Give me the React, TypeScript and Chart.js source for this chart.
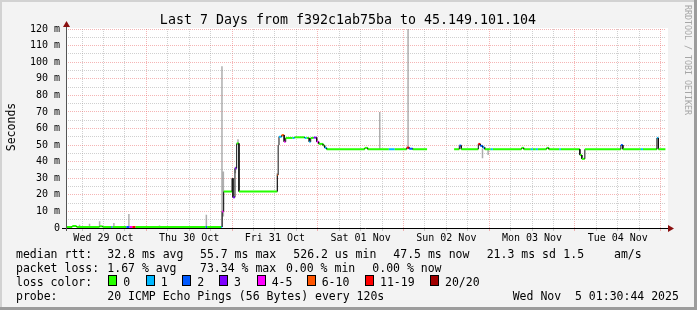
import React, { useEffect, useRef } from 'react';
import { Chart, registerables } from 'chart.js';

Chart.register(...registerables);

// ---------------- data ----------------
const TITLE = 'Last 7 Days from f392c1ab75ba to 45.149.101.104';
const Y_TITLE = 'Seconds';
const WATERMARK = 'RRDTOOL / TOBI OETIKER';

// x values are hours since Wed 29 Oct 00:00
const START_H = 1.512; // Wed 29 Oct 01:30:44
const END_H = 169.512; // Wed 05 Nov 01:30:44
const DAY_LABELS = ['Wed 29 Oct', 'Thu 30 Oct', 'Fri 31 Oct', 'Sat 01 Nov', 'Sun 02 Nov', 'Mon 03 Nov', 'Tue 04 Nov'];
const Y_MIN = 0;
const Y_MAX = 120;
const Y_STEP = 5;

const LOSS_COLORS = ['#26ff00', '#00b8ff', '#0059ff', '#7e00ff', '#ff00ff', '#ff5500', '#ff0000', '#a10000'];
const LOSS_LABELS = ['0', '1', '2', '3', '4-5', '6-10', '11-19', '20/20'];

// median rtt (ms) as steps: start hour, value, loss bucket
const medianHours = [
  1.51, 3.27, 4.47, 10.92, 11.76, 14.2, 14.56, 18.4, 19.32, 20.08, 21.0, 40.6, 41.03, 44.96,
  45.24, 45.66, 48.0, 48.26, 48.82, 49.3, 49.94, 60.7, 60.92, 61.15, 61.9, 62.6, 63.03, 64.99,
  65.55, 68.35, 68.9, 69.61, 70.03, 70.87, 71.71, 72.27, 73.53, 73.95, 74.51, 85.16, 86.0, 91.9,
  93.56, 96.92, 97.62, 98.61, 102.61, 110.18, 111.64, 112.19, 116.96, 117.52, 118.22, 118.78,
  120.46, 121.02, 129.06, 129.7, 131.67, 132.23, 133.07, 133.63, 136.07, 136.71, 139.65, 140.07,
  145.39, 145.95, 146.79, 156.88, 157.44, 162.48, 163.05, 166.97, 167.38,
];
const medianValues: (number | null)[] = [
  0.6, 1.2, 0.6, 1.0, 0.6, 0.6, 0.6, 0.6, 0.6, 0.6, 0.6, 0.6, 0.6, 0.6,
  10, 22, 30, 18.5, 36, 51, 22, 32, 50, 55, 56, 52, 54.3, 54.3,
  54.7, 54.3, 54.3, 52, 54.3, 54.5, 52, 50.7, 49.7, 48.3, 47.5, 48.3, 47.5, 47.5,
  47.5, 48.5, 47.8, 47.5, null, 47.5, 49.7, 47.5, 50.7, 49.5, 48.5, 47.5,
  47.5, 47.5, 48.3, 47.5, 47.5, 47.5, 47.5, 47.5, 48.3, 47.5, 47.5, 47.5,
  44, 41.7, 47.5, 50, 47.5, 47.5, 47.5, 54.3, 47.5,
];
const medianLoss = [
  0, 0, 0, 0, 0, 2, 0, 2, 4, 6, 0, 2, 0, 1,
  4, 0, 7, 3, 3, 0, 0, 5, 6, 1, 5, 4, 0, 1,
  0, 1, 0, 1, 0, 3, 4, 0, 0, 1, 0, 0, 0, 1,
  0, 6, 2, 0, 0, 0, 2, 0, 6, 2, 1, 0,
  1, 0, 0, 0, 1, 0, 1, 0, 0, 0, 1, 0,
  0, 0, 0, 2, 0, 1, 0, 1, 0,
];
const MEDIAN_END_H = 169.35;

// smoke (spread of the 20 pings): hour, low, high
const smokeHours = [5.31, 8.1, 10.92, 14.92, 19.12, 27.7, 40.81, 45.18, 45.57, 48.94, 49.67, 60.65, 89.36, 97.29, 118.13, 119.7];
const smokeLow = [0.6, 0.6, 0.6, 0.6, 0.6, 0.6, 0.6, 0.6, 7, 33, 50, 22, 47.5, 47.5, 42, 44];
const smokeHigh = [2, 2.5, 4, 3, 8.5, 1.5, 8, 97.5, 34, 37, 53.5, 33, 70, 122, 48, 48];

// legend text
const LEGEND_RTT = ['median rtt:', '32.8 ms avg', '55.7 ms max', '526.2 us min', '47.5 ms now', '21.3 ms sd', '1.5', 'am/s'];
const LEGEND_LOSS = ['packet loss:', '1.67 % avg', '73.34 % max', '0.00 % min', '0.00 % now'];
const LEGEND_COLOR_TITLE = 'loss color:';
const LEGEND_PROBE = ['probe:', '20 ICMP Echo Pings (56 Bytes) every 120s', 'Wed Nov  5 01:30:44 2025'];

// ---------------- layout / style ----------------
const W = 697;
const H = 310;
const MONO = '"DejaVu Sans Mono", monospace';
const BG = '#f3f3f3';
const MAJOR = 'rgba(232, 90, 90, 0.45)';
const MINOR = 'rgba(150, 150, 150, 0.45)';

function buildMedian() {
  const pts: { x: number; y: number | null }[] = [];
  const seg: (string | null)[] = [];
  for (let i = 0; i < medianHours.length; i++) {
    const t0 = medianHours[i];
    const t1 = i + 1 < medianHours.length ? medianHours[i + 1] : MEDIAN_END_H;
    const v = medianValues[i];
    if (v === null) {
      pts.push({ x: t0, y: null });
      seg.push(null);
      continue;
    }
    pts.push({ x: t0, y: v });
    seg.push(LOSS_COLORS[medianLoss[i]]);
    pts.push({ x: t1, y: v });
    seg.push('v');
  }
  return { pts, seg };
}

function buildSmoke() {
  const pts: { x: number; y: number | null }[] = [];
  for (let i = 0; i < smokeHours.length; i++) {
    pts.push({ x: smokeHours[i], y: smokeLow[i] });
    pts.push({ x: smokeHours[i], y: smokeHigh[i] });
    pts.push({ x: smokeHours[i], y: null });
  }
  return pts;
}

const decorPlugin = {
  id: 'rrdDecor',
  beforeDraw(chart: any) {
    const { ctx, chartArea: a } = chart;
    ctx.save();
    ctx.fillStyle = BG;
    ctx.fillRect(0, 0, W, H);
    // frame
    ctx.fillStyle = '#d2d2d2';
    ctx.fillRect(0, 0, W, 2);
    ctx.fillRect(0, 0, 2, H);
    ctx.fillStyle = '#9c9c9c';
    ctx.fillRect(0, H - 3, W, 3);
    ctx.fillRect(W - 3, 0, 3, H);
    // canvas
    ctx.fillStyle = '#ffffff';
    ctx.fillRect(a.left, a.top - 1, a.right - a.left + 2, a.bottom - a.top + 1);
    ctx.restore();
  },
  afterDatasetsDraw(chart: any) {
    const { ctx, chartArea: a } = chart;
    ctx.save();
    // axes
    ctx.lineWidth = 1;
    ctx.strokeStyle = '#000';
    ctx.beginPath();
    ctx.moveTo(a.left - 4, a.bottom + 0.5);
    ctx.lineTo(a.right + 3, a.bottom + 0.5);
    ctx.stroke();
    ctx.strokeStyle = '#555';
    ctx.beginPath();
    ctx.moveTo(a.left + 0.5, a.bottom + 3);
    ctx.lineTo(a.left + 0.5, a.top - 3);
    ctx.stroke();
    ctx.fillStyle = '#8a1010';
    ctx.beginPath();
    ctx.moveTo(a.right + 2, a.bottom - 3);
    ctx.lineTo(a.right + 8, a.bottom + 0.5);
    ctx.lineTo(a.right + 2, a.bottom + 4);
    ctx.closePath();
    ctx.fill();
    ctx.beginPath();
    ctx.moveTo(a.left - 3, a.top - 2);
    ctx.lineTo(a.left + 0.5, a.top - 8);
    ctx.lineTo(a.left + 4, a.top - 2);
    ctx.closePath();
    ctx.fill();

    // title
    ctx.fillStyle = '#000';
    ctx.font = `13.3px ${MONO}`;
    ctx.textAlign = 'center';
    ctx.textBaseline = 'alphabetic';
    ctx.fillText(TITLE, 348, 24);

    // y title
    ctx.save();
    ctx.translate(15, 127);
    ctx.rotate(-Math.PI / 2);
    ctx.font = `11.5px ${MONO}`;
    ctx.textAlign = 'center';
    ctx.fillText(Y_TITLE, 0, 0);
    ctx.restore();

    // watermark
    ctx.save();
    ctx.translate(685, 5);
    ctx.rotate(Math.PI / 2);
    ctx.font = `8.3px ${MONO}`;
    ctx.fillStyle = '#a6a6a6';
    ctx.textAlign = 'left';
    ctx.fillText(WATERMARK, 0, 0);
    ctx.restore();

    // legend
    ctx.font = `11.5px ${MONO}`;
    ctx.textAlign = 'left';
    ctx.fillStyle = '#000';
    const rttX = [16, 107.3, 200, 293.3, 393.3, 486.7, 563.3, 614];
    LEGEND_RTT.forEach((t, i) => ctx.fillText(t, rttX[i], 258));
    const lossX = [16, 107.3, 200, 286, 372.3];
    LEGEND_LOSS.forEach((t, i) => ctx.fillText(t, lossX[i], 272));
    ctx.fillText(LEGEND_COLOR_TITLE, 16, 285.7);
    const boxX = [108.3, 145.7, 182.3, 219, 256.7, 306.7, 365, 430];
    LOSS_COLORS.forEach((c, i) => {
      const bx = Math.round(boxX[i]);
      ctx.fillStyle = c;
      ctx.fillRect(bx, 275, 9, 11);
      ctx.strokeStyle = '#000';
      ctx.lineWidth = 1;
      ctx.strokeRect(bx + 0.5, 275.5, 8, 10);
      ctx.fillStyle = '#000';
      ctx.fillText(LOSS_LABELS[i], boxX[i] + 15, 285.7);
    });
    const probeX = [16, 107.3, 512.7];
    LEGEND_PROBE.forEach((t, i) => ctx.fillText(t, probeX[i], 299.5));
    ctx.restore();
  },
};

function makeXTicks() {
  const t: { value: number }[] = [];
  for (let h = Math.ceil(START_H / 6) * 6; h <= END_H; h += 6) t.push({ value: h });
  return t;
}

export default function App() {
  const ref = useRef<HTMLCanvasElement | null>(null);
  useEffect(() => {
    document.body.style.margin = '0';
    if (!ref.current) return;
    const med = buildMedian();
    const chart = new Chart(ref.current, {
      type: 'line',
      data: {
        datasets: [
          {
            label: 'median',
            data: med.pts as any,
            order: 0,
            borderColor: LOSS_COLORS[0],
            borderWidth: 2,
            pointRadius: 0,
            pointHoverRadius: 0,
            spanGaps: false,
            tension: 0,
            segment: {
              borderColor: (c: any) => {
                const s = med.seg[c.p0DataIndex];
                return s === 'v' ? '#111' : s || 'rgba(0,0,0,0)';
              },
              borderWidth: (c: any) => (med.seg[c.p0DataIndex] === 'v' ? 1 : 2),
            },
          } as any,
          {
            label: 'smoke',
            data: buildSmoke() as any,
            order: 1,
            borderColor: 'rgba(140,140,140,0.7)',
            borderWidth: 1.5,
            pointRadius: 0,
            pointHoverRadius: 0,
            spanGaps: false,
          } as any,
        ],
      },
      options: {
        animation: false,
        responsive: false,
        devicePixelRatio: 1,
        events: [],
        layout: { padding: { top: 29, right: 31, left: 0, bottom: 0 } },
        plugins: { legend: { display: false }, tooltip: { enabled: false }, title: { display: false } },
        scales: {
          x: {
            type: 'linear',
            min: START_H,
            max: END_H,
            afterFit: (s: any) => {
              s.height = 82;
            },
            afterBuildTicks: (s: any) => {
              s.ticks = makeXTicks();
            },
            grid: {
              color: (c: any) => (c.tick && c.tick.value % 24 === 0 ? MAJOR : MINOR),
              tickColor: (c: any) => (c.tick && c.tick.value % 24 === 0 ? MAJOR : MINOR),
              tickLength: 3,
              lineWidth: 1,
            },
            border: { display: false, dash: [1, 1] },
            ticks: {
              autoSkip: false,
              maxRotation: 0,
              padding: 1,
              color: '#000',
              font: { family: MONO, size: 10 },
              callback: (v: any) => {
                const n = Number(v);
                return n % 24 === 12 ? DAY_LABELS[(n - 12) / 24] || '' : '';
              },
            },
          },
          y: {
            type: 'linear',
            min: Y_MIN,
            max: Y_MAX,
            afterFit: (s: any) => {
              s.width = 66;
            },
            grid: {
              color: (c: any) => (c.tick && c.tick.value % 10 === 0 ? MAJOR : MINOR),
              drawTicks: false,
              lineWidth: 1,
            },
            border: { display: false, dash: [1, 1] },
            ticks: {
              stepSize: Y_STEP,
              autoSkip: false,
              padding: 6,
              color: '#000',
              font: { family: MONO, size: 10 },
              callback: (v: any) => {
                const n = Number(v);
                if (n === 0) return '0';
                return n % 10 === 0 ? `${n} m` : '';
              },
            },
          },
        },
      } as any,
      plugins: [decorPlugin],
    });
    return () => chart.destroy();
  }, []);
  return (
    <div style={{ width: W, height: H }}>
      <canvas ref={ref} width={W} height={H} style={{ display: 'block', width: W, height: H }} />
    </div>
  );
}
